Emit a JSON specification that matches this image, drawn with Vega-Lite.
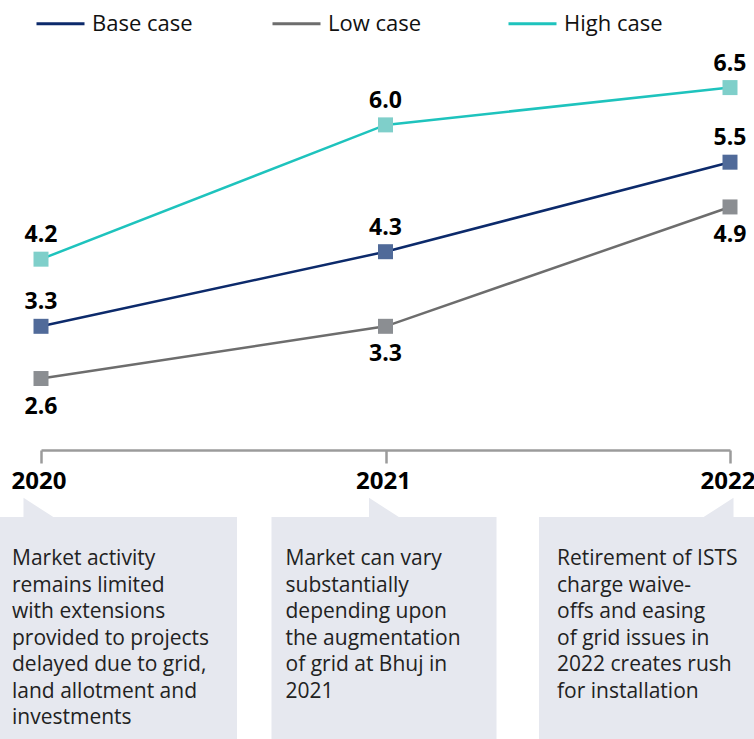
{
  "$schema": "https://vega.github.io/schema/vega-lite/v6.json",
  "width": 689,
  "height": 450,
  "autosize": {"type": "none"},
  "padding": {"left": 41, "top": 0, "right": 24, "bottom": 289},
  "background": "white",
  "config": {"view": {"stroke": null}, "font": "Open Sans"},
  "datasets": {
    "series": [
      {"year": 2020, "case": "Base case", "value": 3.3},
      {"year": 2021, "case": "Base case", "value": 4.3},
      {"year": 2022, "case": "Base case", "value": 5.5},
      {"year": 2020, "case": "Low case", "value": 2.6},
      {"year": 2021, "case": "Low case", "value": 3.3},
      {"year": 2022, "case": "Low case", "value": 4.9},
      {"year": 2020, "case": "High case", "value": 4.2},
      {"year": 2021, "case": "High case", "value": 6.0},
      {"year": 2022, "case": "High case", "value": 6.5}
    ],
    "notes": [
      {"year": 2020, "note": "Market activity\nremains limited\nwith extensions\nprovided to projects\ndelayed due to grid,\nland allotment and\ninvestments"},
      {"year": 2021, "note": "Market can vary\nsubstantially\ndepending upon\nthe augmentation\nof grid at Bhuj in\n2021"},
      {"year": 2022, "note": "Retirement of ISTS\ncharge waive-\noffs and easing\nof grid issues in\n2022 creates rush\nfor installation"}
    ]
  },
  "layer": [
    {
      "data": {"name": "series"},
      "mark": {"type": "line", "strokeWidth": 2.5},
      "encoding": {
        "x": {
          "field": "year", "type": "quantitative",
          "scale": {"domain": [2020, 2022], "nice": false, "zero": false},
          "axis": {
            "values": [2020, 2021, 2022], "title": null, "grid": false, "labels": false,
            "domainColor": "#9b9b9b", "domainWidth": 2.5, "tickColor": "#9b9b9b", "tickWidth": 2.5,
            "tickSize": 13, "zindex": 1
          }
        },
        "y": {
          "field": "value", "type": "quantitative",
          "scale": {"domain": [1.642, 7.674], "nice": false, "zero": false},
          "axis": null
        },
        "stroke": {
          "field": "case", "type": "nominal",
          "scale": {"domain": ["Base case", "Low case", "High case"], "range": ["#0c2a6b", "#6d6d6d", "#1ec3bd"]},
          "legend": {
            "orient": "none", "legendX": -6, "legendY": -2, "direction": "horizontal", "title": null,
            "columns": 3, "gridAlign": "all", "columnPadding": 73, "padding": 0,
            "symbolType": "stroke", "symbolSize": 2304, "symbolStrokeWidth": 3,
            "labelFontSize": 22, "labelColor": "#111111", "labelOffset": 6
          }
        }
      }
    },
    {
      "data": {"name": "series"},
      "mark": {"type": "point", "shape": "square", "size": 225, "filled": true, "opacity": 1},
      "encoding": {
        "x": {"field": "year", "type": "quantitative"},
        "y": {"field": "value", "type": "quantitative"},
        "fill": {
          "field": "case", "type": "nominal",
          "scale": {"domain": ["Base case", "Low case", "High case"], "range": ["#506a99", "#8b8e92", "#7fcfca"]},
          "legend": null
        }
      }
    },
    {
      "data": {"name": "series"},
      "transform": [{"filter": "datum.case !== 'Low case'"}],
      "mark": {"type": "text", "fontSize": 23, "fontWeight": "bold", "color": "#000000", "dy": -17, "baseline": "alphabetic"},
      "encoding": {
        "x": {"field": "year", "type": "quantitative"},
        "y": {"field": "value", "type": "quantitative"},
        "text": {"field": "value", "type": "quantitative", "format": ".1f"}
      }
    },
    {
      "data": {"name": "series"},
      "transform": [{"filter": "datum.case === 'Low case'"}],
      "mark": {"type": "text", "fontSize": 23, "fontWeight": "bold", "color": "#000000", "dy": 35, "baseline": "alphabetic"},
      "encoding": {
        "x": {"field": "year", "type": "quantitative"},
        "y": {"field": "value", "type": "quantitative"},
        "text": {"field": "value", "type": "quantitative", "format": ".1f"}
      }
    },
    {
      "data": {"name": "series"},
      "transform": [{"filter": "datum.case === 'Base case'"}],
      "mark": {"type": "text", "fontSize": 24, "fontWeight": "bold", "color": "#000000", "baseline": "alphabetic", "y": {"expr": "height + 39"}, "dx": -2},
      "encoding": {
        "x": {"field": "year", "type": "quantitative"},
        "text": {"field": "year", "type": "quantitative", "format": "d"}
      }
    },
    {
      "data": {"name": "notes"},
      "transform": [{"filter": "datum.year === 2020"}],
      "layer": [
        {
          "mark": {"type": "rect", "color": "#e6e8ef", "y": {"expr": "height + 67"}, "y2": {"expr": "height + 295"}, "xOffset": -45, "x2Offset": 196},
          "encoding": {"x": {"field": "year", "type": "quantitative"}, "x2": {"field": "year"}}
        },
        {
          "mark": {"type": "point", "shape": "M-1,-0.6L-1,0.7L1,0.7Z", "size": 961, "filled": true, "opacity": 1, "color": "#e6e8ef", "strokeWidth": 0, "y": {"expr": "height + 57"}, "xOffset": -2},
          "encoding": {"x": {"field": "year", "type": "quantitative"}}
        },
        {
          "mark": {"type": "text", "align": "left", "baseline": "alphabetic", "lineBreak": "\n", "lineHeight": 26.5, "fontSize": 21, "color": "#222222", "y": {"expr": "height + 115"}, "dx": -29},
          "encoding": {"x": {"field": "year", "type": "quantitative"}, "text": {"field": "note"}}
        }
      ]
    },
    {
      "data": {"name": "notes"},
      "transform": [{"filter": "datum.year === 2021"}],
      "layer": [
        {
          "mark": {"type": "rect", "color": "#e6e8ef", "y": {"expr": "height + 67"}, "y2": {"expr": "height + 295"}, "xOffset": -114, "x2Offset": 111},
          "encoding": {"x": {"field": "year", "type": "quantitative"}, "x2": {"field": "year"}}
        },
        {
          "mark": {"type": "point", "shape": "M-1,-0.6L-1,0.7L1,0.7Z", "size": 961, "filled": true, "opacity": 1, "color": "#e6e8ef", "strokeWidth": 0, "y": {"expr": "height + 57"}, "xOffset": -1},
          "encoding": {"x": {"field": "year", "type": "quantitative"}}
        },
        {
          "mark": {"type": "text", "align": "left", "baseline": "alphabetic", "lineBreak": "\n", "lineHeight": 26.5, "fontSize": 21, "color": "#222222", "y": {"expr": "height + 115"}, "dx": -100},
          "encoding": {"x": {"field": "year", "type": "quantitative"}, "text": {"field": "note"}}
        }
      ]
    },
    {
      "data": {"name": "notes"},
      "transform": [{"filter": "datum.year === 2022"}],
      "layer": [
        {
          "mark": {"type": "rect", "color": "#e6e8ef", "y": {"expr": "height + 67"}, "y2": {"expr": "height + 295"}, "xOffset": -191, "x2Offset": 40},
          "encoding": {"x": {"field": "year", "type": "quantitative"}, "x2": {"field": "year"}}
        },
        {
          "mark": {"type": "point", "shape": "M1,-0.6L1,0.7L-1,0.7Z", "size": 961, "filled": true, "opacity": 1, "color": "#e6e8ef", "strokeWidth": 0, "y": {"expr": "height + 57"}, "xOffset": -12},
          "encoding": {"x": {"field": "year", "type": "quantitative"}}
        },
        {
          "mark": {"type": "text", "align": "left", "baseline": "alphabetic", "lineBreak": "\n", "lineHeight": 26.5, "fontSize": 21, "color": "#222222", "y": {"expr": "height + 115"}, "dx": -173},
          "encoding": {"x": {"field": "year", "type": "quantitative"}, "text": {"field": "note"}}
        }
      ]
    }
  ]
}
